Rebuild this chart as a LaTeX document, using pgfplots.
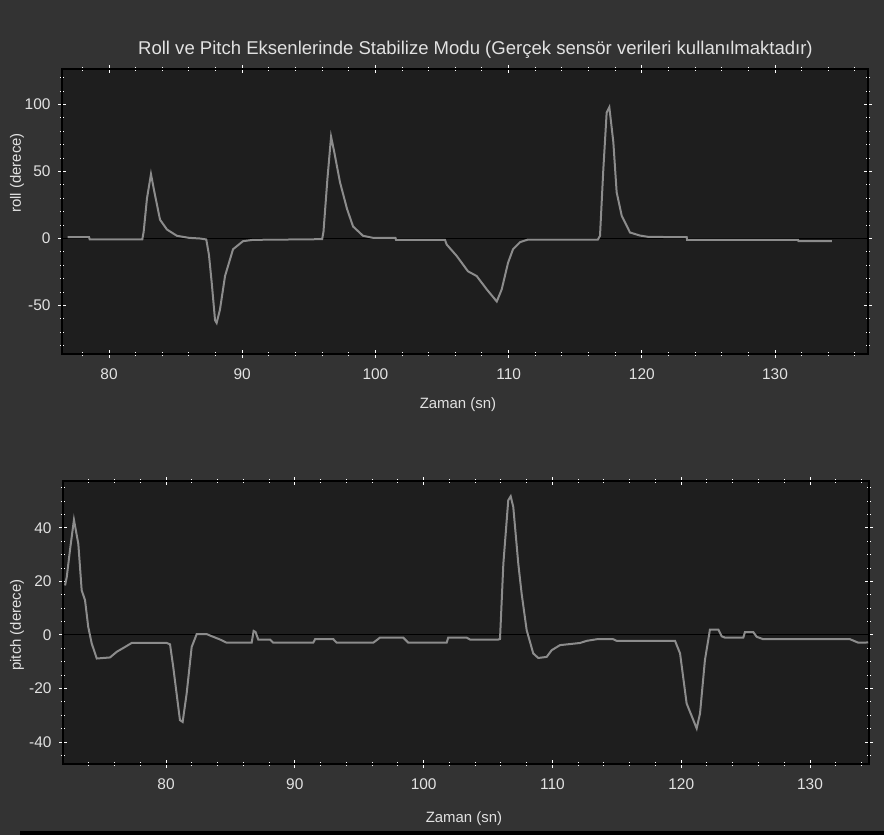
\documentclass[border=0pt]{standalone}
\usepackage{fontspec}
\setmainfont{Liberation Sans}
\usepackage{pgfplots}
\pgfplotsset{compat=1.18}
\definecolor{bgcol}{HTML}{333333}
\definecolor{plotbg}{HTML}{1E1E1E}
\definecolor{linecol}{HTML}{8C8C8C}
\definecolor{txtcol}{HTML}{E2E2E2}
\pgfplotsset{
  mystyle/.style={
    scale only axis,
    width=806bp,
    axis background/.style={fill=plotbg},
    axis line style={black, line width=1.2bp},
    every tick/.style={white, line width=1bp},
    major tick length=8bp,
    minor tick length=4bp,
    tick align=center,
    xtick={80,90,100,110,120,130},
    tick label style={font=\fontsize{15.5}{18}\selectfont, text=txtcol},
    xticklabel style={yshift=-7bp},
    yticklabel style={xshift=-4bp},
    /pgf/number format/assume math mode=true,
    label style={font=\fontsize{15}{18}\selectfont, text=txtcol},
    clip=true,
  }
}
\pgfplotstableread{
x y
76.9 1
78.5 1
78.55 -0.6
82.5 -0.6
82.6 5
82.85 30
83.15 48
83.4 35
83.83 14
84.35 6.7
85.1 2
86.0 0.5
86.83 0
87.3 -0.7
87.5 -12
87.71 -33
87.96 -61
88.08 -63
88.33 -53
88.71 -28
89.31 -8
90.06 -2
90.81 -1
96.0 -0.5
96.1 5
96.4 45
96.67 76
96.9 65
97.34 42
97.87 22
98.32 9
99.07 2
99.82 0.5
101.5 0.5
101.55 -1
105.22 -1
105.35 -4.5
106.1 -13
106.95 -24.5
107.6 -28
108.36 -38
109.11 -47
109.48 -38
109.96 -18
110.33 -8
110.86 -2.7
111.45 -0.8
116.7 -0.8
116.86 2
117.11 51.7
117.36 94
117.56 98
117.86 72
118.11 34.5
118.49 17
119.11 4.5
119.86 2.2
120.5 1.2
123.37 1
123.4 -1
131.73 -1
131.76 -2
134.26 -2
}\rolldata
\pgfplotstableread{
x y
72.16 18.5
72.29 21.6
72.54 31.6
72.85 43
73.19 34
73.45 16.7
73.71 13
73.96 3
74.23 -3.2
74.62 -8.8
75.65 -8.4
76.17 -6.3
76.81 -4.5
77.33 -3
80.05 -3
80.31 -3.5
80.56 -12
81.08 -31.8
81.29 -32.5
81.6 -21.9
81.99 -4.5
82.38 0.3
83.16 0.3
83.67 -0.7
84.19 -1.7
84.71 -2.9
86.65 -2.9
86.8 1.5
86.95 1.1
87.16 -1.7
88.07 -1.7
88.33 -2.9
91.43 -2.9
91.57 -1.6
92.99 -1.6
93.25 -2.9
96.09 -2.9
96.61 -1
98.42 -1
98.81 -2.9
101.79 -2.9
101.91 -1
103.34 -1
103.6 -1.7
105.8 -1.7
105.93 -1.5
106.19 26.6
106.57 50.3
106.76 51.8
106.96 47.8
107.35 26.6
107.61 15.4
108.0 1.8
108.51 -6.9
108.9 -8.6
109.55 -8.2
109.94 -5.7
110.59 -3.8
112.14 -3
112.66 -2.2
113.44 -1.6
114.72 -1.6
114.99 -2.2
119.52 -2.2
119.91 -6.9
120.42 -25.6
121.2 -34.9
121.46 -29.3
121.84 -9.4
122.23 2
122.88 2
123.14 -0.5
123.4 -1
124.82 -1
124.95 1.1
125.59 1.1
125.86 -0.7
126.37 -1.6
133.11 -1.6
133.75 -2.9
134.52 -2.8
}\pitchdata
\begin{document}
\begin{tikzpicture}
\path[use as bounding box] (0,0) rectangle (884bp,-835bp);
\fill[bgcol] (0,0) rectangle (884bp,-835bp);
\fill[black] (20bp,-831bp) rectangle (884bp,-835bp);
\begin{axis}[mystyle,
  at={(62bp,-69bp)}, anchor=north west,
  height=285bp,
  xmin=76.47, xmax=136.98, ymin=-86.2, ymax=126.5,
  minor xtick={78,82,84,86,88,92,94,96,98,102,104,106,108,112,114,116,118,122,124,126,128,132,134,136},
  ytick={-50,0,50,100},
  minor ytick={-80,-70,-60,-40,-30,-20,-10,10,20,30,40,60,70,80,90,110,120},
  title={Roll ve Pitch Eksenlerinde Stabilize Modu (Gerçek sensör verileri kullanılmaktadır)},
  title style={font=\fontsize{18.6}{22}\selectfont, text=txtcol, at={(axis description cs:0.513,1.045)}, anchor=center},
  xlabel={Zaman (sn)},
  xlabel style={at={(axis description cs:0.4913,-0.179)}, anchor=center},
  ylabel={roll (derece)},
  ylabel style={at={(axis description cs:-0.0558,0.635)}, anchor=center},
]
\addplot[black, line width=1bp] coordinates {(76.47,0) (136.98,0)};
\addplot[linecol, line width=2bp] table[x=x,y=y] {\rolldata};
\end{axis}
\begin{axis}[mystyle,
  at={(63bp,-481bp)}, anchor=north west,
  height=283bp,
  xmin=72.0, xmax=134.58, ymin=-48.2, ymax=57.5,
  minor xtick={74,76,78,82,84,86,88,92,94,96,98,102,104,106,108,112,114,116,118,122,124,126,128,132,134},
  ytick={-40,-20,0,20,40},
  minor ytick={-45,-35,-30,-25,-15,-10,-5,5,10,15,25,30,35,45,50,55},
  xlabel={Zaman (sn)},
  xlabel style={at={(axis description cs:0.4975,-0.194)}, anchor=center},
  ylabel={pitch (derece)},
  ylabel style={at={(axis description cs:-0.057,0.491)}, anchor=center},
]
\addplot[black, line width=1bp] coordinates {(72.0,0) (134.58,0)};
\addplot[linecol, line width=2bp] table[x=x,y=y] {\pitchdata};
\end{axis}
\end{tikzpicture}
\end{document}
